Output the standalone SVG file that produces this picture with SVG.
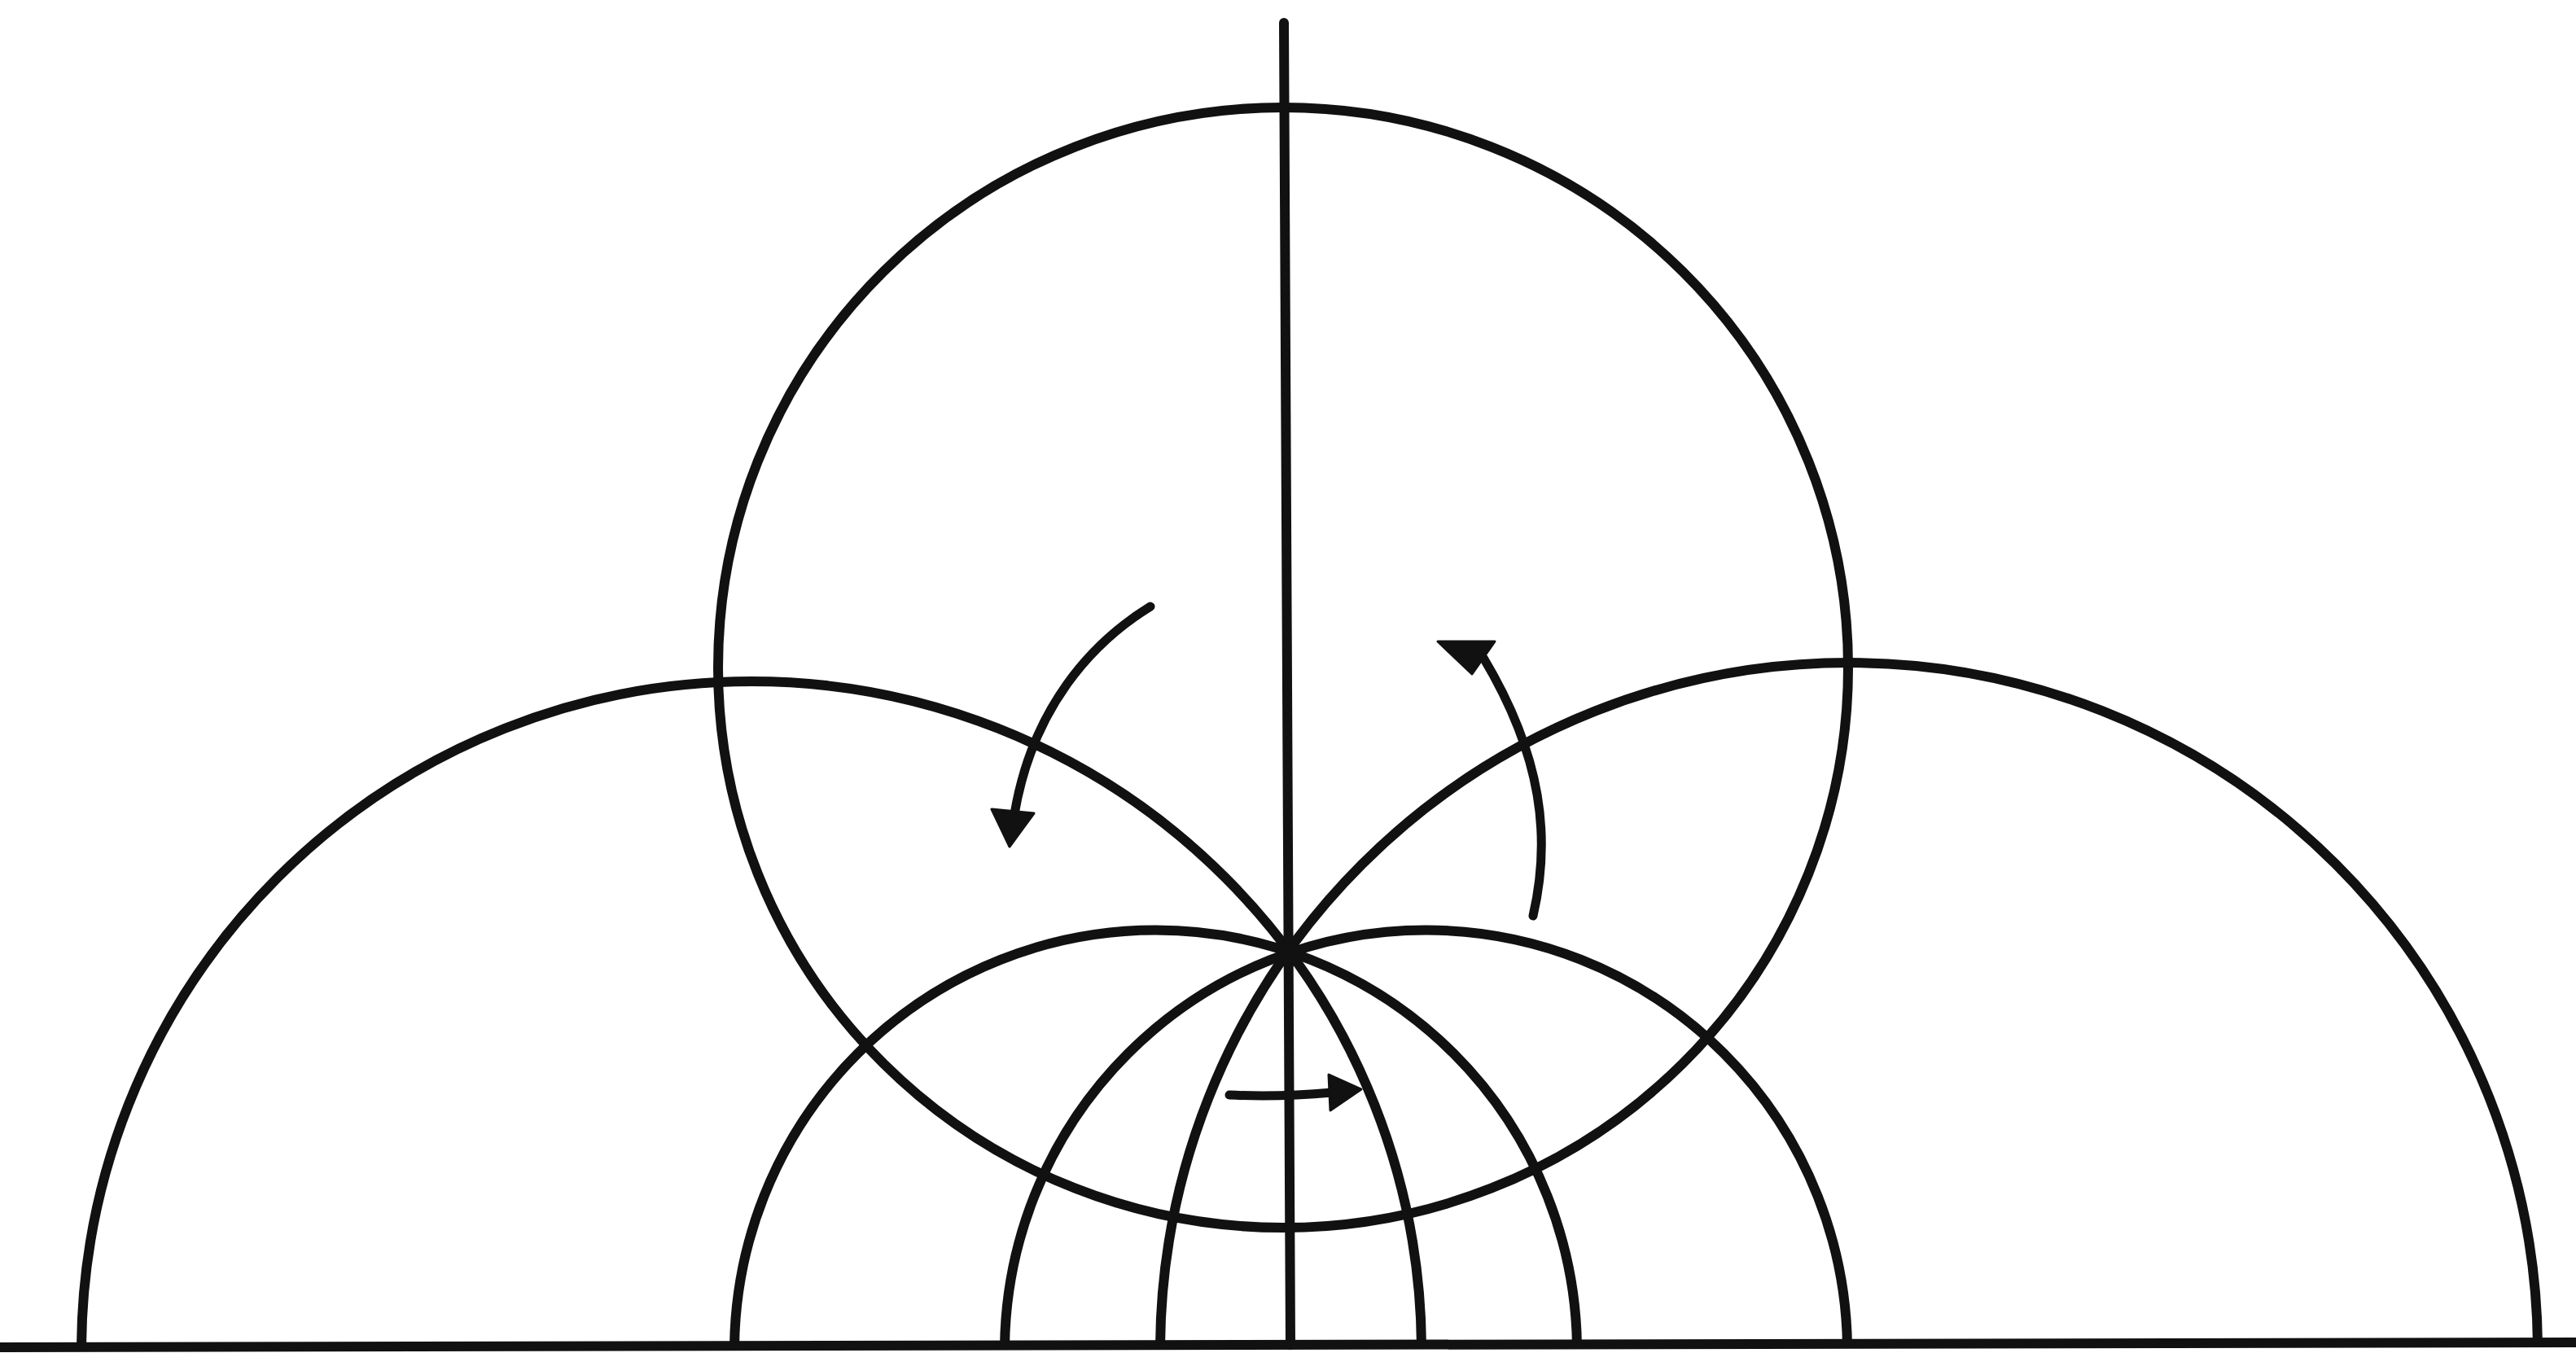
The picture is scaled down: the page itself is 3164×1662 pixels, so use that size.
<svg xmlns="http://www.w3.org/2000/svg" width="3164" height="1662" viewBox="0 0 3164 1662">
  <defs>
    <style>
      .ln { fill: none; stroke: #111; stroke-width: 12; stroke-linecap: round; }
      .ar { fill: none; stroke: #111; stroke-width: 11; stroke-linecap: round; }
      .hd { fill: #111; stroke: #111; stroke-width: 3; stroke-linejoin: round; }
    </style>
    <clipPath id="above">
      <rect x="0" y="0" width="3164" height="1652"/>
    </clipPath>
  </defs>
  <rect x="0" y="0" width="3164" height="1662" fill="#fff"/>

  <g id="top-circle">
    <ellipse class="ln" cx="1576" cy="820" rx="694" ry="688"/>
  </g>

  <g id="semicircles" clip-path="url(#above)">
    <circle id="left-big" class="ln" cx="923" cy="1660" r="823"/>
    <circle id="right-big" class="ln" cx="2271" cy="1660" r="846"/>
    <circle id="mid-left" class="ln" cx="1419.5" cy="1660" r="517.5"/>
    <circle id="mid-right" class="ln" cx="1751.5" cy="1660" r="517.5"/>
  </g>

  <g id="axis">
    <line class="ln" x1="1577" y1="28" x2="1585" y2="1652"/>
    <line class="ln" x1="0" y1="1655" x2="3164" y2="1649"/>
    <circle cx="1583" cy="1173" r="15" fill="#111"/>
  </g>

  <g id="arrows">
    <g id="arrow-left">
      <path class="ar" d="M1413,745 C1340,790 1268,870 1246,1000"/>
      <polygon class="hd" points="1218,994 1270,999 1240,1040"/>
    </g>
    <g id="arrow-right">
      <path class="ar" d="M1883,1125 C1905,1030 1895,930 1822,808"/>
      <polygon class="hd" points="1766,788 1836,788 1808,828"/>
    </g>
    <g id="arrow-bottom">
      <path class="ar" d="M1510,1345 Q1570,1348 1636,1342"/>
      <polygon class="hd" points="1632,1320 1672,1338 1634,1364"/>
    </g>
  </g>
</svg>
